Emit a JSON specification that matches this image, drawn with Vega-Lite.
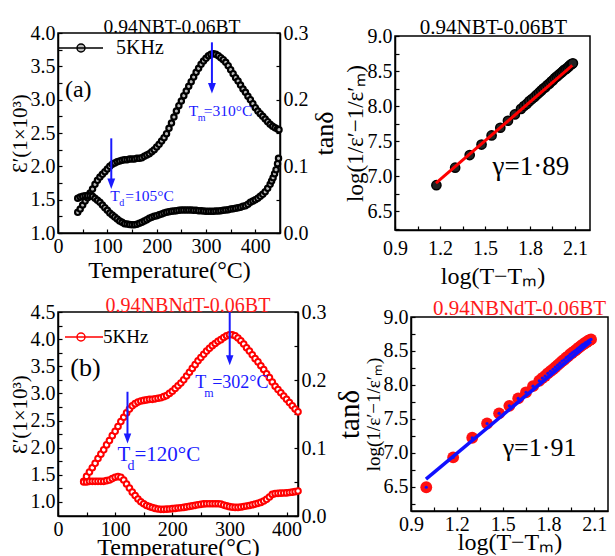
{
  "$schema": "https://vega.github.io/schema/vega-lite/v6.json",
  "background": "white",
  "padding": {"left": 8, "top": 15, "right": 0, "bottom": 0},
  "config": {
    "font": "Liberation Serif",
    "view": {"stroke": "black", "strokeWidth": 1.5},
    "axis": {"grid": false, "domainColor": "black", "domainWidth": 1.5, "tickColor": "black", "tickWidth": 1.2, "tickSize": -4, "labelFont": "Liberation Serif", "labelFontSize": 20, "labelColor": "black", "labelPadding": 7, "labelFlush": false, "labelOverlap": false, "titleFont": "Liberation Serif", "titleFontSize": 24, "titleFontWeight": "normal", "titleColor": "black", "titlePadding": 2},
    "title": {"font": "Liberation Serif", "fontWeight": "normal", "fontSize": 20, "anchor": "middle", "offset": 2, "frame": "group"},
    "legend": {"labelFont": "Liberation Serif", "labelColor": "black"},
    "text": {"font": "Liberation Serif"}
  },
  "datasets": {
    "a_eps": [
      {"T":40,"eps":1.31},{"T":45,"eps":1.36},{"T":50,"eps":1.42},{"T":55,"eps":1.48},{"T":60,"eps":1.53},{"T":65,"eps":1.60},{"T":70,"eps":1.66},{"T":75,"eps":1.73},{"T":80,"eps":1.79},{"T":85,"eps":1.84},{"T":90,"eps":1.88},{"T":95,"eps":1.92},{"T":100,"eps":1.96},{"T":105,"eps":2.00},{"T":110,"eps":2.03},{"T":115,"eps":2.05},{"T":120,"eps":2.07},{"T":125,"eps":2.08},{"T":130,"eps":2.09},{"T":135,"eps":2.10},{"T":140,"eps":2.10},{"T":145,"eps":2.11},{"T":150,"eps":2.11},{"T":155,"eps":2.11},{"T":160,"eps":2.12},{"T":165,"eps":2.12},{"T":170,"eps":2.13},{"T":175,"eps":2.15},{"T":180,"eps":2.17},{"T":185,"eps":2.19},{"T":190,"eps":2.22},{"T":195,"eps":2.25},{"T":200,"eps":2.29},{"T":205,"eps":2.33},{"T":210,"eps":2.38},{"T":215,"eps":2.43},{"T":220,"eps":2.49},{"T":225,"eps":2.57},{"T":230,"eps":2.65},{"T":235,"eps":2.74},{"T":240,"eps":2.83},{"T":245,"eps":2.91},{"T":250,"eps":2.98},{"T":255,"eps":3.06},{"T":260,"eps":3.13},{"T":265,"eps":3.20},{"T":270,"eps":3.27},{"T":275,"eps":3.34},{"T":280,"eps":3.41},{"T":285,"eps":3.47},{"T":290,"eps":3.53},{"T":295,"eps":3.58},{"T":300,"eps":3.62},{"T":305,"eps":3.66},{"T":310,"eps":3.68},{"T":315,"eps":3.69},{"T":320,"eps":3.68},{"T":325,"eps":3.66},{"T":330,"eps":3.63},{"T":335,"eps":3.60},{"T":340,"eps":3.56},{"T":345,"eps":3.51},{"T":350,"eps":3.45},{"T":355,"eps":3.39},{"T":360,"eps":3.33},{"T":365,"eps":3.28},{"T":370,"eps":3.22},{"T":375,"eps":3.16},{"T":380,"eps":3.11},{"T":385,"eps":3.05},{"T":390,"eps":3.00},{"T":395,"eps":2.94},{"T":400,"eps":2.88},{"T":405,"eps":2.83},{"T":410,"eps":2.79},{"T":415,"eps":2.75},{"T":420,"eps":2.71},{"T":425,"eps":2.67},{"T":430,"eps":2.63},{"T":435,"eps":2.60},{"T":440,"eps":2.58},{"T":445,"eps":2.56},{"T":448,"eps":2.55}
    ],
    "a_tan": [
      {"T":40,"tan":0.052},{"T":45,"tan":0.054},{"T":50,"tan":0.055},{"T":55,"tan":0.056},{"T":60,"tan":0.056},{"T":65,"tan":0.056},{"T":70,"tan":0.055},{"T":75,"tan":0.052},{"T":80,"tan":0.049},{"T":85,"tan":0.046},{"T":90,"tan":0.042},{"T":95,"tan":0.038},{"T":100,"tan":0.034},{"T":105,"tan":0.030},{"T":110,"tan":0.027},{"T":115,"tan":0.024},{"T":120,"tan":0.021},{"T":125,"tan":0.018},{"T":130,"tan":0.016},{"T":135,"tan":0.014},{"T":140,"tan":0.0135},{"T":145,"tan":0.0128},{"T":150,"tan":0.0125},{"T":155,"tan":0.0125},{"T":160,"tan":0.013},{"T":165,"tan":0.0145},{"T":170,"tan":0.016},{"T":175,"tan":0.018},{"T":180,"tan":0.020},{"T":185,"tan":0.022},{"T":190,"tan":0.0235},{"T":195,"tan":0.025},{"T":200,"tan":0.026},{"T":205,"tan":0.0275},{"T":210,"tan":0.0285},{"T":215,"tan":0.030},{"T":220,"tan":0.031},{"T":225,"tan":0.032},{"T":230,"tan":0.0325},{"T":235,"tan":0.033},{"T":240,"tan":0.0335},{"T":245,"tan":0.034},{"T":250,"tan":0.0345},{"T":255,"tan":0.0345},{"T":260,"tan":0.0345},{"T":265,"tan":0.0345},{"T":270,"tan":0.0345},{"T":275,"tan":0.034},{"T":280,"tan":0.034},{"T":285,"tan":0.0335},{"T":290,"tan":0.0335},{"T":295,"tan":0.033},{"T":300,"tan":0.0325},{"T":305,"tan":0.0325},{"T":310,"tan":0.0325},{"T":315,"tan":0.0325},{"T":320,"tan":0.033},{"T":325,"tan":0.033},{"T":330,"tan":0.0335},{"T":335,"tan":0.034},{"T":340,"tan":0.0345},{"T":345,"tan":0.035},{"T":350,"tan":0.036},{"T":355,"tan":0.0365},{"T":360,"tan":0.037},{"T":365,"tan":0.038},{"T":370,"tan":0.0385},{"T":375,"tan":0.040},{"T":380,"tan":0.041},{"T":385,"tan":0.043},{"T":390,"tan":0.046},{"T":395,"tan":0.048},{"T":400,"tan":0.050},{"T":405,"tan":0.052},{"T":410,"tan":0.055},{"T":415,"tan":0.058},{"T":420,"tan":0.062},{"T":425,"tan":0.067},{"T":430,"tan":0.073},{"T":433,"tan":0.078},{"T":436,"tan":0.083},{"T":439,"tan":0.089},{"T":442,"tan":0.095},{"T":445,"tan":0.104},{"T":447,"tan":0.112}
    ],
    "a_arrow": [{"T":312,"eps":3.86,"eps2":3.2},{"T":108,"eps":2.42,"eps2":1.77}],
    "a_head": [{"T":312,"eps":3.17},{"T":108,"eps":1.74}],
    "a_txt": [{"T":265,"eps":2.83,"m":"T","s":"m","r":"=310°C"},{"T":106,"eps":1.56,"m":"T","s":"d","r":"=105°C"}],
    "a_lab": [{"T":14,"eps":3.145,"t":"(a)"}],
    "b_eps": [
      {"T":45,"eps":1.38},{"T":50,"eps":1.47},{"T":55,"eps":1.55},{"T":60,"eps":1.63},{"T":65,"eps":1.71},{"T":70,"eps":1.80},{"T":75,"eps":1.88},{"T":80,"eps":1.96},{"T":85,"eps":2.05},{"T":90,"eps":2.13},{"T":95,"eps":2.22},{"T":100,"eps":2.30},{"T":105,"eps":2.39},{"T":110,"eps":2.48},{"T":115,"eps":2.56},{"T":120,"eps":2.64},{"T":125,"eps":2.71},{"T":130,"eps":2.77},{"T":135,"eps":2.81},{"T":140,"eps":2.84},{"T":145,"eps":2.86},{"T":150,"eps":2.87},{"T":155,"eps":2.88},{"T":160,"eps":2.89},{"T":165,"eps":2.89},{"T":170,"eps":2.90},{"T":175,"eps":2.91},{"T":180,"eps":2.92},{"T":185,"eps":2.94},{"T":190,"eps":2.96},{"T":195,"eps":3.00},{"T":200,"eps":3.04},{"T":205,"eps":3.09},{"T":210,"eps":3.14},{"T":215,"eps":3.19},{"T":220,"eps":3.25},{"T":225,"eps":3.32},{"T":230,"eps":3.39},{"T":235,"eps":3.46},{"T":240,"eps":3.53},{"T":245,"eps":3.60},{"T":250,"eps":3.66},{"T":255,"eps":3.72},{"T":260,"eps":3.78},{"T":265,"eps":3.83},{"T":270,"eps":3.88},{"T":275,"eps":3.92},{"T":280,"eps":3.96},{"T":285,"eps":3.99},{"T":290,"eps":4.03},{"T":295,"eps":4.06},{"T":300,"eps":4.08},{"T":305,"eps":4.08},{"T":310,"eps":4.06},{"T":315,"eps":4.02},{"T":320,"eps":3.97},{"T":325,"eps":3.91},{"T":330,"eps":3.84},{"T":335,"eps":3.78},{"T":340,"eps":3.71},{"T":345,"eps":3.64},{"T":350,"eps":3.58},{"T":355,"eps":3.51},{"T":360,"eps":3.44},{"T":365,"eps":3.36},{"T":370,"eps":3.29},{"T":375,"eps":3.21},{"T":380,"eps":3.13},{"T":385,"eps":3.07},{"T":390,"eps":3.01},{"T":395,"eps":2.95},{"T":400,"eps":2.89},{"T":405,"eps":2.83},{"T":410,"eps":2.77},{"T":415,"eps":2.71},{"T":420,"eps":2.66}
    ],
    "b_tan": [
      {"T":45,"tan":0.050},{"T":50,"tan":0.050},{"T":55,"tan":0.051},{"T":60,"tan":0.051},{"T":65,"tan":0.051},{"T":70,"tan":0.051},{"T":75,"tan":0.051},{"T":80,"tan":0.051},{"T":85,"tan":0.052},{"T":90,"tan":0.053},{"T":95,"tan":0.055},{"T":100,"tan":0.057},{"T":105,"tan":0.058},{"T":110,"tan":0.057},{"T":115,"tan":0.053},{"T":120,"tan":0.047},{"T":125,"tan":0.041},{"T":130,"tan":0.035},{"T":135,"tan":0.030},{"T":140,"tan":0.025},{"T":145,"tan":0.021},{"T":150,"tan":0.018},{"T":155,"tan":0.0155},{"T":160,"tan":0.0138},{"T":165,"tan":0.0125},{"T":170,"tan":0.0112},{"T":175,"tan":0.0103},{"T":180,"tan":0.0098},{"T":185,"tan":0.0098},{"T":190,"tan":0.0100},{"T":195,"tan":0.0103},{"T":200,"tan":0.0108},{"T":205,"tan":0.0112},{"T":210,"tan":0.0117},{"T":215,"tan":0.0122},{"T":220,"tan":0.0127},{"T":225,"tan":0.0135},{"T":230,"tan":0.0142},{"T":235,"tan":0.0150},{"T":240,"tan":0.0157},{"T":245,"tan":0.0165},{"T":250,"tan":0.0172},{"T":255,"tan":0.0178},{"T":260,"tan":0.018},{"T":265,"tan":0.018},{"T":270,"tan":0.018},{"T":275,"tan":0.018},{"T":280,"tan":0.018},{"T":285,"tan":0.0175},{"T":290,"tan":0.016},{"T":295,"tan":0.0148},{"T":300,"tan":0.0137},{"T":305,"tan":0.0130},{"T":310,"tan":0.0127},{"T":315,"tan":0.0127},{"T":320,"tan":0.0132},{"T":325,"tan":0.0140},{"T":330,"tan":0.0147},{"T":335,"tan":0.0155},{"T":340,"tan":0.0165},{"T":345,"tan":0.0175},{"T":350,"tan":0.0186},{"T":355,"tan":0.0200},{"T":360,"tan":0.0220},{"T":365,"tan":0.0245},{"T":370,"tan":0.0280},{"T":375,"tan":0.0318},{"T":380,"tan":0.0330},{"T":385,"tan":0.0333},{"T":390,"tan":0.0336},{"T":395,"tan":0.0338},{"T":400,"tan":0.0340},{"T":405,"tan":0.0345},{"T":410,"tan":0.0350},{"T":415,"tan":0.0358},{"T":420,"tan":0.0367}
    ],
    "b_arrow": [{"T":300.5,"eps":4.5,"eps2":3.65},{"T":121.6,"eps":3.03,"eps2":2.2}],
    "b_head": [{"T":300.5,"eps":3.61},{"T":121.6,"eps":2.17}],
    "b_tm": [{"T":240,"eps":3.19,"m":"T","s":"m","r":"=302°C"}],
    "b_td": [{"T":104,"eps":1.87,"m":"T","s":"d","r":"=120°C"}],
    "b_lab": [{"T":21.6,"eps":3.47,"t":"(b)"}],
    "c_pts": [
      {"lx":1.176,"ly":6.87},{"lx":1.301,"ly":7.12},{"lx":1.398,"ly":7.30},{"lx":1.477,"ly":7.45},{"lx":1.544,"ly":7.58},{"lx":1.602,"ly":7.69},{"lx":1.653,"ly":7.79},{"lx":1.699,"ly":7.88},{"lx":1.740,"ly":7.96},{"lx":1.760,"ly":8.00},{"lx":1.778,"ly":8.03},{"lx":1.796,"ly":8.07},{"lx":1.813,"ly":8.10},{"lx":1.830,"ly":8.13},{"lx":1.845,"ly":8.16},{"lx":1.860,"ly":8.19},{"lx":1.875,"ly":8.22},{"lx":1.889,"ly":8.25},{"lx":1.903,"ly":8.27},{"lx":1.916,"ly":8.30},{"lx":1.929,"ly":8.32},{"lx":1.942,"ly":8.35},{"lx":1.954,"ly":8.37},{"lx":1.966,"ly":8.40},{"lx":1.978,"ly":8.42},{"lx":1.989,"ly":8.44},{"lx":2.000,"ly":8.46},{"lx":2.011,"ly":8.48},{"lx":2.021,"ly":8.50},{"lx":2.031,"ly":8.52},{"lx":2.041,"ly":8.53},{"lx":2.051,"ly":8.55},{"lx":2.061,"ly":8.57},{"lx":2.070,"ly":8.59},{"lx":2.079,"ly":8.60},{"lx":2.086,"ly":8.61}
    ],
    "c_fit": [{"lx":1.173,"ly":6.90},{"lx":2.082,"ly":8.58}],
    "c_txt": [{"lx":1.55,"ly":7.13,"t":"γ=1·89"}],
    "d_pts": [
      {"lx":1.000,"ly":6.49},{"lx":1.176,"ly":6.93},{"lx":1.301,"ly":7.22},{"lx":1.398,"ly":7.43},{"lx":1.477,"ly":7.58},{"lx":1.544,"ly":7.69},{"lx":1.602,"ly":7.80},{"lx":1.653,"ly":7.89},{"lx":1.699,"ly":7.98},{"lx":1.740,"ly":8.06},{"lx":1.760,"ly":8.10},{"lx":1.778,"ly":8.13},{"lx":1.796,"ly":8.17},{"lx":1.813,"ly":8.20},{"lx":1.830,"ly":8.23},{"lx":1.845,"ly":8.26},{"lx":1.860,"ly":8.29},{"lx":1.875,"ly":8.32},{"lx":1.889,"ly":8.35},{"lx":1.903,"ly":8.37},{"lx":1.916,"ly":8.40},{"lx":1.929,"ly":8.42},{"lx":1.942,"ly":8.45},{"lx":1.954,"ly":8.47},{"lx":1.966,"ly":8.49},{"lx":1.978,"ly":8.51},{"lx":1.989,"ly":8.53},{"lx":2.000,"ly":8.55},{"lx":2.011,"ly":8.57},{"lx":2.021,"ly":8.59},{"lx":2.031,"ly":8.60},{"lx":2.041,"ly":8.62},{"lx":2.051,"ly":8.63},{"lx":2.061,"ly":8.65},{"lx":2.070,"ly":8.66},{"lx":2.079,"ly":8.67}
    ],
    "d_fit": [{"lx":0.998,"ly":6.61},{"lx":2.078,"ly":8.64}],
    "d_txt": [{"lx":1.50,"ly":7.07,"t":"γ=1·91"}]
  },
  "spacing": 6,
  "resolve": {"scale": {"stroke": "independent"}, "legend": {"stroke": "independent"}},
  "vconcat": [
    {
      "hconcat": [
        {
          "width": 222, "height": 200,
          "title": {"text": "0.94NBT-0.06BT", "font": "Liberation Serif", "fontSize": 19.5, "color": "black", "dx": 3, "offset": -14},
          "resolve": {"scale": {"y": "independent"}},
          "layer": [
            {
              "layer": [
                {
                  "data": {"name": "a_eps"},
                  "mark": {"type": "point", "filled": true, "fill": "#bbbbbb", "strokeWidth": 2.2, "size": 28, "opacity": 1},
                  "encoding": {
                    "x": {"field": "T", "type": "quantitative", "scale": {"domain": [0, 450], "nice": false, "zero": false},
                      "axis": {"title": "Temperature(°C)", "tickCount": 50, "labelOverlap": false, "values": [0,50,100,150,200,250,300,350,400,450], "labelExpr": "datum.value % 100 == 0 ? datum.label : ''"}},
                    "y": {"field": "eps", "type": "quantitative", "scale": {"domain": [1, 4], "nice": false, "zero": false},
                      "axis": {"title": "Ɛ′(1×10³)", "titleFontSize": 21, "titlePadding": 0, "tickCount": 50, "labelOverlap": false, "values": [1,1.25,1.5,1.75,2,2.25,2.5,2.75,3,3.25,3.5,3.75,4], "labelExpr": "datum.value % 0.5 == 0 ? format(datum.value, '.1f') : ''"}},
                    "stroke": {"datum": "5KHz", "scale": {"range": ["black"]},
                      "legend": {"title": null, "orient": "top-left", "offset": 0, "padding": 4, "symbolType": "M-1.5,0L3.0,0M0.4,0A0.4,0.4,0,1,1,1.2,0A0.4,0.4,0,1,1,0.4,0Z", "symbolSize": 400, "symbolStrokeWidth": 1.5, "symbolFillColor": "#bbbbbb", "symbolStrokeColor": "black", "labelFont": "Liberation Serif", "labelFontSize": 20, "labelOffset": 32}}
                  }
                },
                {
                  "data": {"name": "a_arrow"},
                  "mark": {"type": "rule", "color": "#1a1aff", "strokeWidth": 2},
                  "encoding": {"x": {"field": "T", "type": "quantitative"}, "y": {"field": "eps", "type": "quantitative"}, "y2": {"field": "eps2"}}
                },
                {
                  "data": {"name": "a_head"},
                  "mark": {"type": "point", "shape": "M-0.75,-1L0.75,-1L0,1Z", "filled": true, "color": "#1a1aff", "size": 110, "opacity": 1},
                  "encoding": {"x": {"field": "T", "type": "quantitative"}, "y": {"field": "eps", "type": "quantitative"}}
                },
                {
                  "data": {"name": "a_txt"},
                  "mark": {"type": "text", "font": "Liberation Serif", "align": "left", "baseline": "middle", "fontSize": 15.5, "color": "#1a1aff"},
                  "encoding": {"x": {"field": "T", "type": "quantitative"}, "y": {"field": "eps", "type": "quantitative"}, "text": {"field": "m"}}
                },
                {
                  "data": {"name": "a_txt"},
                  "mark": {"type": "text", "font": "Liberation Serif", "align": "left", "baseline": "middle", "fontSize": 10, "color": "#1a1aff", "dx": 9, "dy": 7},
                  "encoding": {"x": {"field": "T", "type": "quantitative"}, "y": {"field": "eps", "type": "quantitative"}, "text": {"field": "s"}}
                },
                {
                  "data": {"name": "a_txt"},
                  "mark": {"type": "text", "font": "Liberation Serif", "align": "left", "baseline": "middle", "fontSize": 15.5, "color": "#1a1aff", "dx": 15},
                  "encoding": {"x": {"field": "T", "type": "quantitative"}, "y": {"field": "eps", "type": "quantitative"}, "text": {"field": "r"}}
                },
                {
                  "data": {"name": "a_lab"},
                  "mark": {"type": "text", "font": "Liberation Serif", "align": "left", "baseline": "middle", "fontSize": 24, "color": "black"},
                  "encoding": {"x": {"field": "T", "type": "quantitative"}, "y": {"field": "eps", "type": "quantitative"}, "text": {"field": "t"}}
                }
              ]
            },
            {
              "data": {"name": "a_tan"},
              "mark": {"type": "point", "filled": true, "fill": "#bbbbbb", "stroke": "black", "strokeWidth": 2.2, "size": 28, "opacity": 1},
              "encoding": {
                "x": {"field": "T", "type": "quantitative"},
                "y": {"field": "tan", "type": "quantitative", "scale": {"domain": [0, 0.3], "nice": false, "zero": false},
                  "axis": {"orient": "right", "title": "tanδ", "titleAngle": 270, "titleBaseline": "top", "titlePadding": 3, "titleFontSize": 26, "tickCount": 50, "labelOverlap": false, "values": [0,0.05,0.1,0.15,0.2,0.25,0.3], "labelExpr": "round(datum.value*100) % 10 == 0 ? format(datum.value, '.1f') : ''"}}
              }
            }
          ]
        },
        {
          "width": 195, "height": 194,
          "title": {"text": "0.94NBT-0.06BT", "font": "Liberation Serif", "fontSize": 21, "color": "black", "dx": 1, "offset": -12},
          "layer": [
            {
              "data": {"name": "c_pts"},
              "mark": {"type": "point", "filled": true, "fill": "#222222", "stroke": "black", "strokeWidth": 1.5, "size": 85, "opacity": 1},
              "encoding": {
                "x": {"field": "lx", "type": "quantitative", "scale": {"domain": [0.9, 2.2], "nice": false, "zero": false},
                  "axis": {"title": "log(T−Tₘ)", "labelPadding": 12, "titlePadding": 6, "tickCount": 50, "labelOverlap": false, "values": [0.9,1.05,1.2,1.35,1.5,1.65,1.8,1.95,2.1], "labelExpr": "round(datum.value*100) % 30 == 0 ? format(datum.value, '.1f') : ''"}},
                "y": {"field": "ly", "type": "quantitative", "scale": {"domain": [6.23, 9.0], "nice": false, "zero": false},
                  "axis": {"title": "log(1/ε′−1/ε′ₘ)", "titleFontSize": 23, "titlePadding": 0, "tickCount": 50, "labelOverlap": false, "values": [6.25,6.5,6.75,7,7.25,7.5,7.75,8,8.25,8.5,8.75,9], "labelExpr": "datum.value % 0.5 == 0 ? format(datum.value, '.1f') : ''"}}
              }
            },
            {
              "data": {"name": "c_fit"},
              "mark": {"type": "line", "color": "#ff0000", "strokeWidth": 3},
              "encoding": {"x": {"field": "lx", "type": "quantitative"}, "y": {"field": "ly", "type": "quantitative"}}
            },
            {
              "data": {"name": "c_txt"},
              "mark": {"type": "text", "font": "Liberation Serif", "align": "left", "baseline": "middle", "fontSize": 27, "color": "black"},
              "encoding": {"x": {"field": "lx", "type": "quantitative"}, "y": {"field": "ly", "type": "quantitative"}, "text": {"field": "t"}}
            }
          ]
        }
      ],
      "spacing": 115,
      "bounds": "flush",
      "center": true
    },
    {
      "hconcat": [
        {
          "width": 240, "height": 204,
          "title": {"text": "0.94NBNdT-0.06BT", "font": "Liberation Serif", "fontSize": 20, "color": "#ff1a1a", "dx": 10, "offset": -14},
          "resolve": {"scale": {"y": "independent"}},
          "layer": [
            {
              "layer": [
                {
                  "data": {"name": "b_eps"},
                  "mark": {"type": "point", "filled": true, "fill": "#ffffff", "strokeWidth": 2, "size": 32, "opacity": 1},
                  "encoding": {
                    "x": {"field": "T", "type": "quantitative", "scale": {"domain": [0, 420], "nice": false, "zero": false},
                      "axis": {"title": "Temperature(°C)", "titlePadding": -4, "tickCount": 50, "labelOverlap": false, "values": [0,50,100,150,200,250,300,350,400], "labelExpr": "datum.value % 100 == 0 ? datum.label : ''"}},
                    "y": {"field": "eps", "type": "quantitative", "scale": {"domain": [0.74, 4.5], "nice": false, "zero": false},
                      "axis": {"title": "Ɛ′(1×10³)", "titleFontSize": 21, "titlePadding": 0, "tickCount": 50, "labelOverlap": false, "values": [1,1.25,1.5,1.75,2,2.25,2.5,2.75,3,3.25,3.5,3.75,4,4.25,4.5], "labelExpr": "datum.value % 0.5 == 0 ? format(datum.value, '.1f') : ''"}},
                    "stroke": {"datum": "5KHz", "scale": {"range": ["#ff0000"]},
                      "legend": {"title": null, "orient": "top-left", "offset": 0, "padding": 14, "symbolType": "M-1.8,0L2.0,0M-0.6,0A0.4,0.4,0,1,1,0.2,0A0.4,0.4,0,1,1,-0.6,0Z", "symbolSize": 400, "symbolStrokeWidth": 1.5, "symbolFillColor": "#ffffff", "symbolStrokeColor": "#ff0000", "labelFont": "Liberation Serif", "labelFontSize": 19, "labelOffset": 9}}
                  }
                },
                {
                  "data": {"name": "b_arrow"},
                  "mark": {"type": "rule", "color": "#1a1aff", "strokeWidth": 2},
                  "encoding": {"x": {"field": "T", "type": "quantitative"}, "y": {"field": "eps", "type": "quantitative"}, "y2": {"field": "eps2"}}
                },
                {
                  "data": {"name": "b_head"},
                  "mark": {"type": "point", "shape": "M-0.75,-1L0.75,-1L0,1Z", "filled": true, "color": "#1a1aff", "size": 100, "opacity": 1},
                  "encoding": {"x": {"field": "T", "type": "quantitative"}, "y": {"field": "eps", "type": "quantitative"}}
                },
                {
                  "data": {"name": "b_tm"},
                  "mark": {"type": "text", "font": "Liberation Serif", "align": "left", "baseline": "middle", "fontSize": 18, "color": "#1a1aff"},
                  "encoding": {"x": {"field": "T", "type": "quantitative"}, "y": {"field": "eps", "type": "quantitative"}, "text": {"field": "m"}}
                },
                {
                  "data": {"name": "b_tm"},
                  "mark": {"type": "text", "font": "Liberation Serif", "align": "left", "baseline": "middle", "fontSize": 12, "color": "#1a1aff", "dx": 9, "dy": 10},
                  "encoding": {"x": {"field": "T", "type": "quantitative"}, "y": {"field": "eps", "type": "quantitative"}, "text": {"field": "s"}}
                },
                {
                  "data": {"name": "b_tm"},
                  "mark": {"type": "text", "font": "Liberation Serif", "align": "left", "baseline": "middle", "fontSize": 18, "color": "#1a1aff", "dx": 17},
                  "encoding": {"x": {"field": "T", "type": "quantitative"}, "y": {"field": "eps", "type": "quantitative"}, "text": {"field": "r"}}
                },
                {
                  "data": {"name": "b_td"},
                  "mark": {"type": "text", "font": "Liberation Serif", "align": "left", "baseline": "middle", "fontSize": 21, "color": "#1a1aff"},
                  "encoding": {"x": {"field": "T", "type": "quantitative"}, "y": {"field": "eps", "type": "quantitative"}, "text": {"field": "m"}}
                },
                {
                  "data": {"name": "b_td"},
                  "mark": {"type": "text", "font": "Liberation Serif", "align": "left", "baseline": "middle", "fontSize": 14, "color": "#1a1aff", "dx": 10, "dy": 11},
                  "encoding": {"x": {"field": "T", "type": "quantitative"}, "y": {"field": "eps", "type": "quantitative"}, "text": {"field": "s"}}
                },
                {
                  "data": {"name": "b_td"},
                  "mark": {"type": "text", "font": "Liberation Serif", "align": "left", "baseline": "middle", "fontSize": 21, "color": "#1a1aff", "dx": 17},
                  "encoding": {"x": {"field": "T", "type": "quantitative"}, "y": {"field": "eps", "type": "quantitative"}, "text": {"field": "r"}}
                },
                {
                  "data": {"name": "b_lab"},
                  "mark": {"type": "text", "font": "Liberation Serif", "align": "left", "baseline": "middle", "fontSize": 26, "color": "black"},
                  "encoding": {"x": {"field": "T", "type": "quantitative"}, "y": {"field": "eps", "type": "quantitative"}, "text": {"field": "t"}}
                }
              ]
            },
            {
              "data": {"name": "b_tan"},
              "mark": {"type": "point", "filled": true, "fill": "#ffffff", "stroke": "#ff0000", "strokeWidth": 2, "size": 32, "opacity": 1},
              "encoding": {
                "x": {"field": "T", "type": "quantitative"},
                "y": {"field": "tan", "type": "quantitative", "scale": {"domain": [0, 0.3], "nice": false, "zero": false},
                  "axis": {"orient": "right", "title": "tanδ", "titleAngle": 270, "titleBaseline": "top", "titlePadding": 9, "titleFontSize": 29, "tickCount": 50, "labelOverlap": false, "values": [0,0.05,0.1,0.15,0.2,0.25,0.3], "labelExpr": "round(datum.value*100) % 10 == 0 ? format(datum.value, '.1f') : ''"}}
              }
            }
          ]
        },
        {
          "width": 197, "height": 194,
          "title": {"text": "0.94NBNdT-0.06BT", "font": "Liberation Serif", "fontSize": 21, "color": "#ff1a1a", "dx": 10, "offset": -12},
          "layer": [
            {
              "data": {"name": "d_pts"},
              "mark": {"type": "point", "filled": true, "fill": "#ff1010", "strokeWidth": 0, "size": 140, "opacity": 1},
              "encoding": {
                "x": {"field": "lx", "type": "quantitative", "scale": {"domain": [0.9, 2.19], "nice": false, "zero": false},
                  "axis": {"title": "log(T−Tₘ)", "labelPadding": 7, "titlePadding": -4, "tickCount": 50, "labelOverlap": false, "values": [0.9,1.05,1.2,1.35,1.5,1.65,1.8,1.95,2.1], "labelExpr": "round(datum.value*100) % 30 == 0 ? format(datum.value, '.1f') : ''"}},
                "y": {"field": "ly", "type": "quantitative", "scale": {"domain": [6.14, 9.0], "nice": false, "zero": false},
                  "axis": {"title": "log(1/ε′−1/ε′ₘ)", "titleFontSize": 19, "titlePadding": 0, "tickCount": 50, "labelOverlap": false, "values": [6.25,6.5,6.75,7,7.25,7.5,7.75,8,8.25,8.5,8.75,9], "labelExpr": "datum.value % 0.5 == 0 ? format(datum.value, '.1f') : ''"}}
              }
            },
            {
              "data": {"name": "d_fit"},
              "mark": {"type": "line", "color": "#1010ff", "strokeWidth": 3.5},
              "encoding": {"x": {"field": "lx", "type": "quantitative"}, "y": {"field": "ly", "type": "quantitative"}}
            },
            {
              "data": {"name": "d_pts"},
              "mark": {"type": "point", "filled": true, "fill": "#1010ff", "strokeWidth": 0, "size": 10, "opacity": 1},
              "encoding": {"x": {"field": "lx", "type": "quantitative"}, "y": {"field": "ly", "type": "quantitative"}}
            },
            {
              "data": {"name": "d_txt"},
              "mark": {"type": "text", "font": "Liberation Serif", "align": "left", "baseline": "middle", "fontSize": 26, "color": "black"},
              "encoding": {"x": {"field": "lx", "type": "quantitative"}, "y": {"field": "ly", "type": "quantitative"}, "text": {"field": "t"}}
            }
          ]
        }
      ],
      "spacing": 113,
      "bounds": "flush",
      "center": true
    }
  ]
}
